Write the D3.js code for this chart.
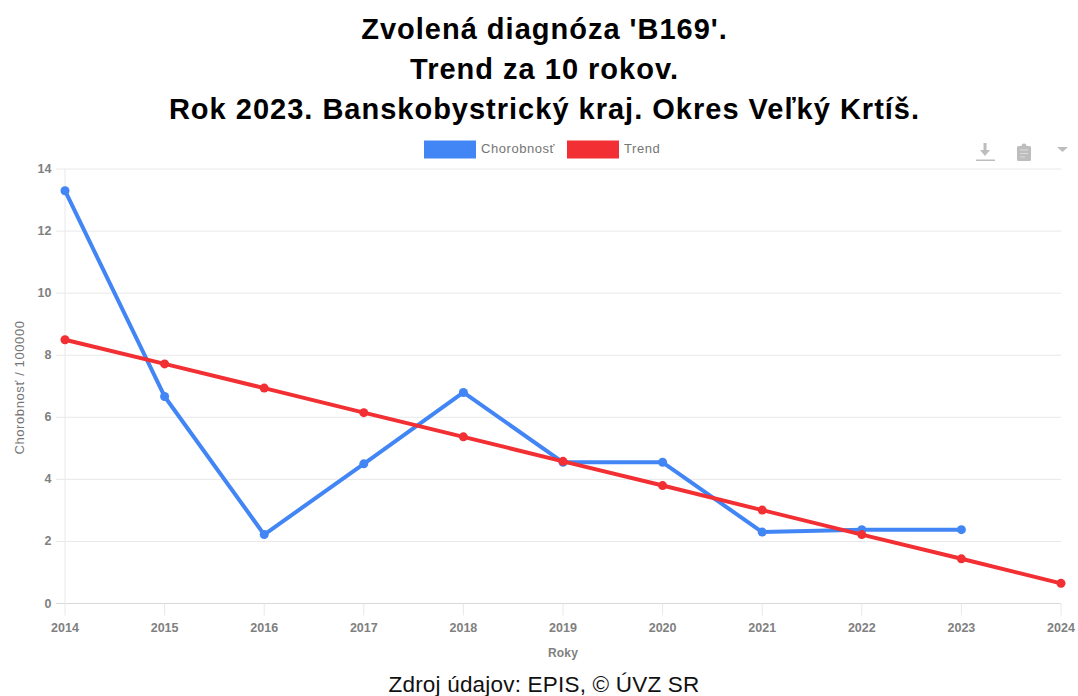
<!DOCTYPE html>
<html>
<head>
<meta charset="utf-8">
<script src="https://cdn.jsdelivr.net/npm/d3@7"></script>
<style>
  html, body { margin: 0; padding: 0; background: #fff; }
  text { font-family: "Liberation Sans", Arial, sans-serif; }
</style>
</head>
<body>
<div id="chart"></div>
<script>
var titleLines = ["Zvolená diagnóza 'B169'.", "Trend za 10 rokov.", "Rok 2023. Banskobystrický kraj. Okres Veľký Krtíš."];
var years = [2014, 2015, 2016, 2017, 2018, 2019, 2020, 2021, 2022, 2023, 2024];
var illness = [13.3, 6.67, 2.22, 4.5, 6.8, 4.55, 4.55, 2.3, 2.38, 2.38];
var trend = [8.5, 7.72, 6.94, 6.15, 5.37, 4.58, 3.8, 3.01, 2.22, 1.44, 0.65];
var yTicks = [0, 2, 4, 6, 8, 10, 12, 14];
var seriesNames = ["Chorobnosť", "Trend"];
var seriesColors = ["#4285f4", "#f22f33"];

var width = 1078, height = 696;
var margin = {top: 169, right: 17, bottom: 92.5, left: 65};

var svg = d3.select('#chart').append('svg')
  .attr('width', width)
  .attr('height', height)
  .style('display', 'block');

svg.selectAll('.title')
  .data(titleLines)
  .enter()
  .append('text')
  .attr('class', 'title')
  .attr('x', 544.5)
  .attr('y', function(d, i) { return 39 + i * 40; })
  .attr('text-anchor', 'middle')
  .attr('font-size', 29)
  .attr('font-weight', 'bold')
  .attr('letter-spacing', 1)
  .attr('fill', '#000')
  .text(function(d) { return d; });

var x = d3.scaleLinear().domain([2014, 2024]).range([margin.left, width - margin.right]);
var y = d3.scaleLinear().domain([0, 14]).range([height - margin.bottom, margin.top]);

// grid lines
svg.append('g').selectAll('line')
  .data(yTicks)
  .enter()
  .append('line')
  .attr('x1', 56)
  .attr('x2', x(2024))
  .attr('y1', function(d) { return y(d); })
  .attr('y2', function(d) { return y(d); })
  .attr('stroke', function(d) { return d === 0 ? '#d9d9d9' : '#e8e8e8'; })
  .attr('stroke-width', 1);

svg.append('line')
  .attr('x1', x(2014)).attr('x2', x(2014))
  .attr('y1', y(14)).attr('y2', y(0) + 12)
  .attr('stroke', '#e8e8e8');

svg.append('g').selectAll('line')
  .data(years.slice(1))
  .enter()
  .append('line')
  .attr('x1', function(d) { return x(d); })
  .attr('x2', function(d) { return x(d); })
  .attr('y1', y(0))
  .attr('y2', y(0) + 12)
  .attr('stroke', '#e8e8e8');

// tick labels
svg.append('g').selectAll('text')
  .data(yTicks)
  .enter()
  .append('text')
  .attr('x', 51.5)
  .attr('y', function(d) { return y(d) + 4; })
  .attr('text-anchor', 'end')
  .attr('font-size', 12.5)
  .attr('font-weight', 'bold')
  .attr('fill', '#808080')
  .text(function(d) { return d; });

svg.append('g').selectAll('text')
  .data(years)
  .enter()
  .append('text')
  .attr('x', function(d) { return x(d); })
  .attr('y', y(0) + 28)
  .attr('text-anchor', 'middle')
  .attr('font-size', 12.5)
  .attr('font-weight', 'bold')
  .attr('fill', '#808080')
  .text(function(d) { return d; });

svg.append('text')
  .attr('x', 563)
  .attr('y', 657)
  .attr('text-anchor', 'middle')
  .attr('font-size', 12)
  .attr('font-weight', 'bold')
  .attr('letter-spacing', 0.2)
  .attr('fill', '#808080')
  .text('Roky');

svg.append('text')
  .attr('transform', 'translate(24,387.5) rotate(-90)')
  .attr('text-anchor', 'middle')
  .attr('font-size', 13)
  .attr('letter-spacing', 0.6)
  .attr('fill', '#757575')
  .text('Chorobnosť / 100000');

var line = d3.line()
  .x(function(d, i) { return x(years[i]); })
  .y(function(d) { return y(d); });

[illness, trend].forEach(function(series, s) {
  svg.append('path')
    .datum(series)
    .attr('d', line)
    .attr('fill', 'none')
    .attr('stroke', seriesColors[s])
    .attr('stroke-width', 4)
    .attr('stroke-linejoin', 'round');

  svg.append('g').selectAll('circle')
    .data(series)
    .enter()
    .append('circle')
    .attr('cx', function(d, i) { return x(years[i]); })
    .attr('cy', function(d) { return y(d); })
    .attr('r', 4.5)
    .attr('fill', seriesColors[s]);
});

// legend
var legendX = [424, 567];
seriesNames.forEach(function(name, i) {
  svg.append('rect')
    .attr('x', legendX[i])
    .attr('y', 140.5)
    .attr('width', 52)
    .attr('height', 18)
    .attr('fill', seriesColors[i]);
  svg.append('text')
    .attr('x', legendX[i] + 57)
    .attr('y', 153)
    .attr('font-size', 13)
    .attr('letter-spacing', 0.55)
    .attr('fill', '#757575')
    .text(name);
});

// toolbar icons, top right
var icons = svg.append('g').attr('fill', '#bdbdbd');
icons.append('path').attr('d', 'M983.5 143h3v7h3.5l-5 6-5-6h3.500z');
icons.append('rect').attr('x', 976).attr('y', 159.500).attr('width', 19).attr('height', 1.5);
icons.append('path').attr('d', 'M1018.500 146h3a2.500 2.500 0 0 1 5 0h3a1.500 1.500 0 0 1 1.500 1.500v12a1.500 1.500 0 0 1-1.500 1.500h-11a1.500 1.500 0 0 1-1.500-1.500v-12a1.500 1.500 0 0 1 1.500-1.500z');
icons.append('path').attr('d', 'M1020 150h8M1020 153.500h8M1020 157h5').attr('stroke', '#dcdcdc').attr('fill', 'none');
icons.append('path').attr('d', 'M1057 147h11l-5.500 5z');

svg.append('text')
  .attr('x', 544)
  .attr('y', 692)
  .attr('text-anchor', 'middle')
  .attr('font-size', 22.5)
  .attr('letter-spacing', 0.2)
  .attr('fill', '#111')
  .text('Zdroj údajov: EPIS, © ÚVZ SR');
</script>
</body>
</html>
